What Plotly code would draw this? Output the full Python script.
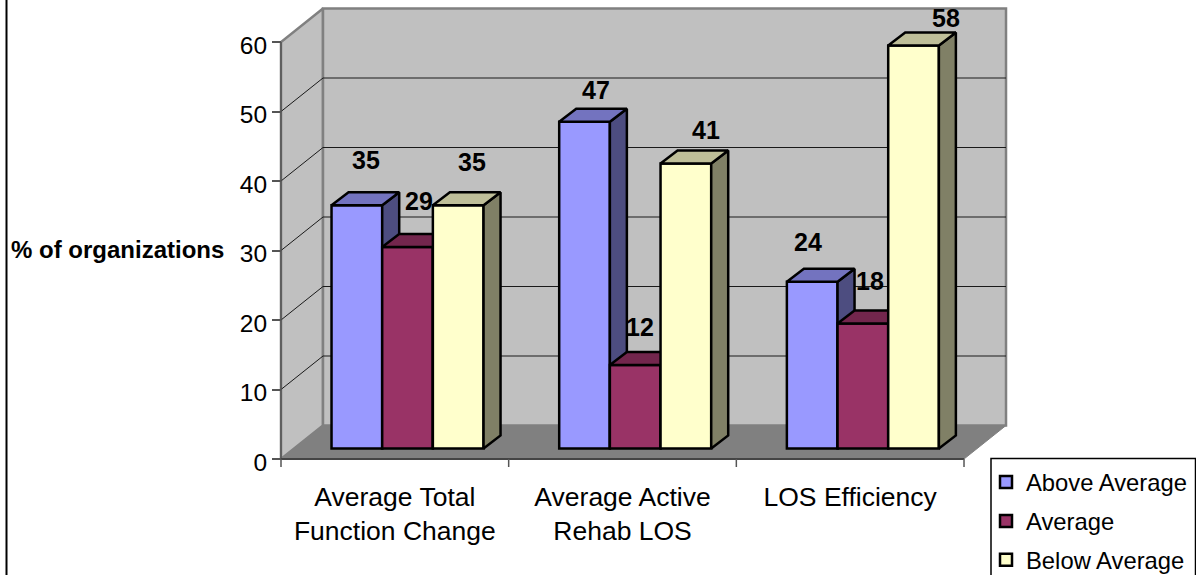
import plotly.graph_objects as go

categories = ["Average Total<br>Function Change", "Average Active<br>Rehab LOS", "LOS Efficiency"]
series_names = ["Above Average", "Average", "Below Average"]
above_average = [35, 47, 24]
average = [29, 12, 18]
below_average = [35, 41, 58]
y_ticks = [0, 10, 20, 30, 40, 50, 60]

front_colors = ["#9999FF", "#993366", "#FFFFCC"]
top_colors = ["#7373BF", "#73264D", "#BFBF99"]
side_colors = ["#4D4D80", "#4D1A33", "#808066"]
series_values = [above_average, average, below_average]

# label nudges in pixels, one per series / category (the original placed them by hand)
label_dx = [[9, 11, -4], [11, 5, 7], [14, 20, 32]]
label_dy = [[45, 32, 40], [46, 38, 42], [43, 34, 27]]

W, H = 1196, 575
X0, Y0 = 281.0, 459.0            # pixel of (0, 0) on the front plane
PX_X, PX_Y = 227.67, 6.95        # pixels per category / per percentage point
WALL_DX, WALL_DY = 42 / PX_X, 33.5 / PX_Y   # depth of the chart box
BAR_DX, BAR_DY = 17 / PX_X, 13 / PX_Y       # depth of one bar
SHIFT_X, SHIFT_Y = 12.7 / PX_X, 10.5 / PX_Y   # bars stand inside the box
BAR_W = 50.67 / PX_X
YMAX = y_ticks[-1]
N = len(categories)

x_range = [-X0 / PX_X, (W - X0) / PX_X]
y_range = [(Y0 - H) / PX_Y, Y0 / PX_Y]
GRAY, DARK = "#808080", "#555555"

fig = go.Figure()


def poly(points, fill, line, width, xa="x", ya="y"):
    xs, ys = zip(*points)
    fig.add_trace(go.Scatter(
        x=list(xs) + [xs[0]], y=list(ys) + [ys[0]], mode="lines", fill="toself", fillcolor=fill,
        line=dict(color=line, width=width), showlegend=False, hoverinfo="skip", xaxis=xa, yaxis=ya))


def segs(pairs, color, width, xa="x", ya="y"):
    xs, ys = [], []
    for (a, b) in pairs:
        xs += [a[0], b[0], None]
        ys += [a[1], b[1], None]
    fig.add_trace(go.Scatter(x=xs, y=ys, mode="lines", line=dict(color=color, width=width),
                             showlegend=False, hoverinfo="skip", xaxis=xa, yaxis=ya))


# chart box
poly([(0, 0), (WALL_DX, WALL_DY), (WALL_DX, YMAX + WALL_DY), (0, YMAX)], "#C0C0C0", GRAY, 2.5)
poly([(WALL_DX, WALL_DY), (N + WALL_DX, WALL_DY), (N + WALL_DX, YMAX + WALL_DY), (WALL_DX, YMAX + WALL_DY)],
     "#C0C0C0", GRAY, 2.5)
poly([(0, 0), (N, 0), (N + WALL_DX, WALL_DY), (WALL_DX, WALL_DY)], GRAY, GRAY, 1)
grid = []
for t in y_ticks[1:-1]:
    grid.append(((0, t), (WALL_DX, t + WALL_DY)))
    grid.append(((WALL_DX, t + WALL_DY), (N + WALL_DX, t + WALL_DY)))
segs(grid, "#1a1a1a", 1)
segs([((0, 0), (0, YMAX))], DARK, 1.5)
segs([((0, 0), (N, 0))], "#444444", 2)
segs([((i, 0), (i, -8 / PX_Y)) for i in range(N + 1)], DARK, 1.5)

# bars: one overlaid subplot per series so that each one covers the previous side faces
for s, (name, vals) in enumerate(zip(series_names, series_values)):
    xa, ya = f"x{s + 2}", f"y{s + 2}"
    offset = (s - 1.5) * BAR_W
    centers = [i + 0.5 for i in range(N)]
    fig.add_trace(go.Bar(
        x=centers, y=vals, name=name, width=BAR_W, offset=offset, legendgroup=name,
        marker=dict(color=front_colors[s], line=dict(color="black", width=2.5)),
        xaxis=xa, yaxis=ya))
    for c, v in zip(centers, vals):
        l, r = c + offset, c + offset + BAR_W
        poly([(r, 0), (r + BAR_DX, BAR_DY), (r + BAR_DX, v + BAR_DY), (r, v)], side_colors[s], "black", 2.5, xa, ya)
        poly([(l, v), (r, v), (r + BAR_DX, v + BAR_DY), (l + BAR_DX, v + BAR_DY)], top_colors[s], "black", 2.5, xa, ya)

annotations = []
for s, vals in enumerate(series_values):
    for i, v in enumerate(vals):
        annotations.append(dict(
            x=i + 0.5 + (s - 1) * BAR_W, y=v, xref="x4", yref="y4", text=f"<b>{v}</b>", showarrow=False,
            xshift=label_dx[s][i], yshift=label_dy[s][i], yanchor="middle", xanchor="center",
            font=dict(family="Liberation Sans", size=25, color="black")))
annotations.append(dict(
    x=117.5 / W, y=1 - 250 / H, xref="paper", yref="paper", text="<b>% of organizations</b>", showarrow=False,
    xanchor="center", yanchor="middle", font=dict(family="Liberation Sans", size=24, color="black")))

overlay = dict(visible=False, fixedrange=True)
layout = dict(
    width=W, height=H, margin=dict(l=0, r=0, t=0, b=0, autoexpand=False), paper_bgcolor="white", plot_bgcolor="white",
    barmode="overlay", annotations=annotations,
    xaxis=dict(domain=[0, 1], range=x_range, anchor="free", position=(H - Y0) / H, showgrid=False, zeroline=False,
               showline=False, tickmode="array", tickvals=[i + 0.5 for i in range(N)], ticktext=categories,
               ticks="", ticklabelstandoff=19, tickfont=dict(family="Liberation Sans", size=26.5, color="black")),
    yaxis=dict(domain=[0, 1], range=y_range, anchor="free", position=X0 / W, showgrid=False, zeroline=False,
               showline=False, tickmode="array", tickvals=y_ticks, ticks="outside", ticklen=9, tickwidth=1.5,
               ticklabelshift=3, tickcolor=DARK, tickfont=dict(family="Liberation Sans", size=24.5, color="black")),
    legend=dict(x=986 / W, y=1 - 460 / H, xanchor="left", yanchor="top", bgcolor="rgba(0,0,0,0)", borderwidth=0,
                tracegroupgap=5, font=dict(family="Liberation Sans", size=23.8, color="black")),
    shapes=[
        dict(type="line", xref="paper", yref="paper", x0=6.5 / W, x1=6.5 / W, y0=0, y1=1,
             line=dict(color="black", width=2)),
        dict(type="rect", xref="paper", yref="paper", x0=991 / W, x1=1195.5 / W, y0=1 - 458.5 / H, y1=-0.1,
             fillcolor="white", line=dict(color="black", width=1.5), layer="between"),
    ],
)
for k in (2, 3, 4):
    layout[f"xaxis{k}"] = dict(overlay, overlaying="x", domain=[0, 1], range=[x_range[0] - SHIFT_X, x_range[1] - SHIFT_X])
    layout[f"yaxis{k}"] = dict(overlay, overlaying="y", domain=[0, 1], range=[y_range[0] - SHIFT_Y, y_range[1] - SHIFT_Y])
fig.update_layout(**layout)
fig.write_html("out.html", config={"displayModeBar": False},
               post_script="document.body.style.margin='0';document.body.style.overflow='hidden';")
